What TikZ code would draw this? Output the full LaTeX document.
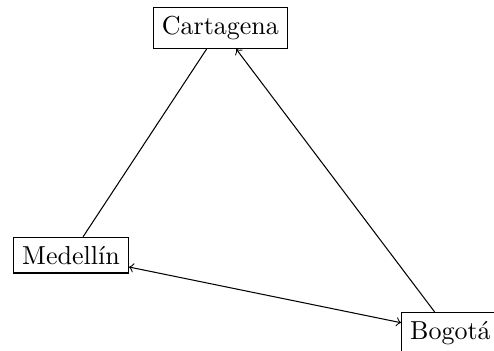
\documentclass[tikz,border=0pt]{standalone}
\begin{document}
\begin{tikzpicture}
[citydecorate/.style={shape=rectangle,draw},%
  linedecorate/.style={-},%
  arrowdecorate/.style={->},%
  twowaydecorate/.style={<->},%
  scale=1]
\useasboundingbox (0,0) rectangle (6.68,-4.74);
%% nodes or vertices
\foreach \nodename/\cityname/\x/\y in {cartagena/Cartagena/2.98/-0.38, medellin/Medellín/0.96/-3.45, bogota/Bogotá/6.09/-4.50} {
  \node (\nodename) at (\x,\y) [citydecorate] {\cityname};
}
%% edges or lines
\path
\foreach \startnode/\endnode/\linestyle in {medellin/cartagena/linedecorate, bogota/cartagena/arrowdecorate, medellin/bogota/twowaydecorate} {
  (\startnode) edge[\linestyle] (\endnode)
};
\end{tikzpicture}
\end{document}
